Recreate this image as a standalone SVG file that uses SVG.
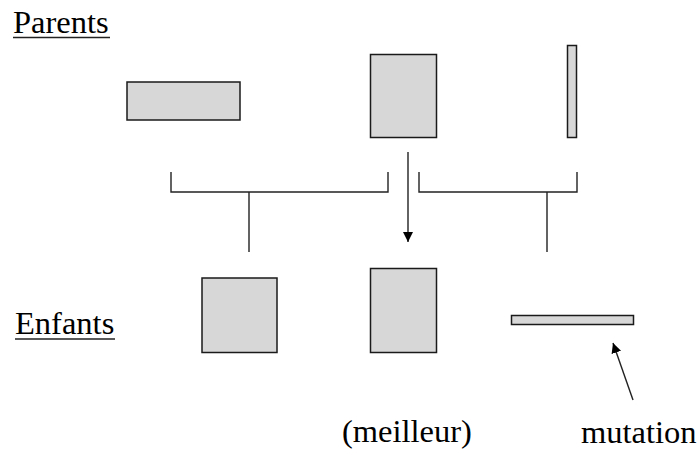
<svg xmlns="http://www.w3.org/2000/svg" width="699" height="455" viewBox="0 0 699 455">
  <defs>
    <marker id="ah" viewBox="0 0 10 10" refX="10" refY="5" markerWidth="10" markerHeight="10" markerUnits="userSpaceOnUse" orient="auto">
      <path d="M0,0 L10,5 L0,10 z" fill="#000"/>
    </marker>
    <style>
      .box { fill: #d7d7d7; stroke: #1a1a1a; stroke-width: 1.5; }
      .ln { fill: none; stroke: #222; stroke-width: 1.4; }
      .lbl { font-family: "Liberation Serif", "Times New Roman", serif; font-size: 32.5px; fill: #000; }
      .ul { stroke: #222; stroke-width: 1.5; }
    </style>
  </defs>
  <rect width="699" height="455" fill="#fff"/>

  <g id="label-parents">
    <text class="lbl" x="13" y="33">Parents</text>
    <line class="ul" x1="13" y1="37.5" x2="110" y2="37.5"/>
  </g>
  <g id="label-enfants">
    <text class="lbl" x="15" y="334">Enfants</text>
    <line class="ul" x1="15" y1="339" x2="115" y2="339"/>
  </g>

  <g id="parent1"><rect class="box" x="127" y="82" width="113" height="38"/></g>
  <g id="parent2"><rect class="box" x="370.5" y="54.5" width="66" height="83"/></g>
  <g id="parent3"><rect class="box" x="567.5" y="45.5" width="9" height="92"/></g>

  <g id="child1"><rect class="box" x="202" y="278" width="75" height="74.5"/></g>
  <g id="child2"><rect class="box" x="370.5" y="268.5" width="66" height="84"/></g>
  <g id="child3"><rect class="box" x="511.5" y="315.5" width="122" height="9"/></g>

  <g id="label-meilleur"><text class="lbl" x="342" y="442">(meilleur)</text></g>
  <g id="label-mutation"><text class="lbl" x="581" y="443">mutation</text></g>

  <g id="connectors">
    <path class="ln" d="M171,172 V192 H388 V172 M249,192 V252"/>
    <path class="ln" d="M419,172 V192 H577 V172 M547,192 V252"/>
    <line class="ln" x1="408" y1="152" x2="408" y2="242" marker-end="url(#ah)"/>
    <line class="ln" x1="633" y1="400" x2="613" y2="343" marker-end="url(#ah)"/>
  </g>
</svg>
